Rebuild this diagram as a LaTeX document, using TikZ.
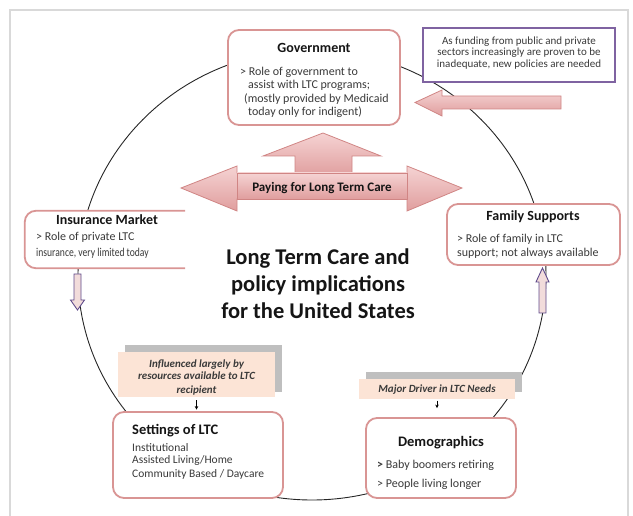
\documentclass[tikz,border=0pt]{standalone}
\usepackage{fontspec}
\setmainfont{Carlito}
\usetikzlibrary{arrows.meta}
\definecolor{boxpink}{HTML}{D99594}
\definecolor{arrowtop}{HTML}{F5D3D3}
\definecolor{arrowbot}{HTML}{E09E9E}
\definecolor{arrowline}{HTML}{D08584}
\definecolor{purp}{HTML}{7F63A1}
\definecolor{peach}{HTML}{FCE4D6}
\definecolor{shadowgray}{HTML}{BFBFBF}
\definecolor{bodytext}{HTML}{3A3A3A}
\definecolor{titletext}{HTML}{151515}
\definecolor{smallarrowcol}{HTML}{5F4B8B}
\definecolor{smallfill}{HTML}{F2DCDB}
\begin{document}
\begin{tikzpicture}[x=1pt,y=-1pt,
  ltcbox/.style={draw=boxpink, line width=1.8pt, rounded corners=11pt, fill=white, inner sep=0pt},
  titlefont/.style={font=\fontsize{14}{16}\selectfont\bfseries, text=titletext, inner sep=0pt},
  bodyfont/.style={font=\fontsize{12}{14}\selectfont, text=bodytext, inner sep=0pt},
  notefont/.style={font=\fontsize{11}{13}\selectfont\bfseries\itshape, text=bodytext, inner sep=0pt},
  bigarrow/.style={top color=arrowtop, bottom color=arrowbot, draw=arrowline, line width=0.8pt, line join=miter},
  smallarrow/.style={fill=smallfill, draw=smallarrowcol, line width=0.9pt, line join=miter},
  notebox/.style={fill=peach, inner sep=0pt},
  noteshadow/.style={fill=shadowgray, inner sep=0pt},
  pointer/.style={-{Stealth[length=3.5pt,width=3.5pt]}, line width=0.6pt, black},
  pics/fatdown/.style={code={\draw[smallarrow] (-3.5,0) -- (3.5,0) -- (3.5,26) -- (7,26) -- (0,36) -- (-7,26) -- (-3.5,26) -- cycle;}},
  pics/fatup/.style={code={\draw[smallarrow] (-3.5,45) -- (3.5,45) -- (3.5,14) -- (6.5,14) -- (0,0) -- (-6.5,14) -- (-3.5,14) -- cycle;}}
]
\useasboundingbox (0,0) rectangle (633,516);
% page frame
\draw[gray!30, line width=1.5pt] (10,520) -- (10,10) -- (628,10) -- (628,520);
% cycle
\draw[line width=0.9pt, black!85] (312,275) ellipse [x radius=234pt, y radius=225pt];

% arrow towards government
\draw[bigarrow] (415,102.5) -- (442,90) -- (442,96) -- (561,96) -- (561,109) -- (442,109) -- (442,116) -- cycle;
% up arrow + double arrow
\draw[bigarrow] (323,133) -- (381,156) -- (352,156) -- (352,176) -- (295,176) -- (295,156) -- (263,156) -- cycle;
\draw[bigarrow] (181,188) -- (237,166) -- (237,173) -- (407,173) -- (407,166) -- (462,188) -- (407,211) -- (407,199) -- (237,199) -- (237,211) -- cycle;
\draw[bigarrow] (237,173) rectangle (407,199);
\node[font=\fontsize{13}{15}\selectfont\bfseries, text=titletext, inner sep=0pt, anchor=base] (paying) at (322,191.5) {Paying for Long Term Care};

% Government
\node[ltcbox, minimum width=172pt, minimum height=95pt] (gov) at (314,77.5) {};
\node[titlefont, anchor=base] (govtitle) at (314,52.5) {Government};
\node[bodyfont, anchor=base west] (govl1) at (240,76) {> Role of government to};
\node[bodyfont, anchor=base west] (govl2) at (248,89) {assist with LTC programs;};
\node[bodyfont, anchor=base west] (govl3) at (244,102.5) {(mostly provided by Medicaid};
\node[bodyfont, anchor=base west] (govl4) at (248,115.5) {today only for indigent)};

% purple note
\node[draw=purp, line width=2.4pt, fill=white, minimum width=192pt, minimum height=54pt, inner sep=0pt] (policy) at (519,55) {};
\node[font=\fontsize{11}{13}\selectfont, text=bodytext, inner sep=0pt, anchor=base] (pol1) at (519,44.5) {As funding from public and private};
\node[font=\fontsize{11}{13}\selectfont, text=bodytext, inner sep=0pt, anchor=base] (pol2) at (519,56) {sectors increasingly are proven to be};
\node[font=\fontsize{11}{13}\selectfont, text=bodytext, inner sep=0pt, anchor=base] (pol3) at (519,67.5) {inadequate, new policies are needed};

% Insurance market (open on the right)
\node[inner sep=0pt, minimum width=160pt, minimum height=57pt] (ins) at (105,239.5) {};
\fill[white] (ins.north west) rectangle (ins.south east);
\draw[draw=boxpink, line width=1.8pt, rounded corners=11pt] (ins.north east) -- (ins.north west) -- (ins.south west) -- (ins.south east);
\node[titlefont, anchor=base] (institle) at (107,225) {Insurance Market};
\node[bodyfont, anchor=base west] (insl1) at (36,241) {> Role of private LTC};
\node[bodyfont, anchor=base west] (insl2) at (36,257) {\scalebox{0.8}[1]{insurance, very limited today}};
\pic at (77.5,274) {fatdown};

% Family supports
\node[ltcbox, minimum width=173pt, minimum height=61pt] (fam) at (533.5,234.5) {};
\node[titlefont, anchor=base] (famtitle) at (533,221) {Family Supports};
\node[bodyfont, anchor=base west] (faml1) at (457,243) {> Role of family in LTC};
\node[bodyfont, anchor=base west] (faml2) at (457,256.5) {support; not always available};
\pic at (542.5,268) {fatup};

% central title
\node[font=\fontsize{22.5}{27}\selectfont\bfseries, text=titletext, inner sep=0pt, anchor=base] (main1) at (318,264.5) {Long Term Care and};
\node[font=\fontsize{22.5}{27}\selectfont\bfseries, text=titletext, inner sep=0pt, anchor=base] (main2) at (318,291.5) {policy implications};
\node[font=\fontsize{22.5}{27}\selectfont\bfseries, text=titletext, inner sep=0pt, anchor=base] (main3) at (318,318.5) {for the United States};

% Influenced note
\node[noteshadow, minimum width=157pt, minimum height=47pt] (inflsh) at (203.5,368.5) {};
\node[notebox, minimum width=157pt, minimum height=45pt] (infl) at (196.5,374.5) {};
\node[notefont, anchor=base] (infl1) at (196.5,367) {Influenced largely by};
\node[notefont, anchor=base] (infl2) at (196.5,380) {resources available to LTC};
\node[notefont, anchor=base] (infl3) at (196.5,393) {recipient};

% Settings
\node[ltcbox, minimum width=170pt, minimum height=86pt] (set) at (198,455) {};
\node[font=\fontsize{14.5}{16}\selectfont\bfseries, text=titletext, inner sep=0pt, anchor=base west] (settitle) at (132,434.5) {Settings of LTC};
\node[font=\fontsize{11.5}{13}\selectfont, text=bodytext, inner sep=0pt, anchor=base west] (setl1) at (132,451) {Institutional};
\node[font=\fontsize{11.5}{13}\selectfont, text=bodytext, inner sep=0pt, anchor=base west] (setl2) at (132,464) {Assisted Living/Home};
\node[font=\fontsize{11.5}{13}\selectfont, text=bodytext, inner sep=0pt, anchor=base west] (setl3) at (132,477) {Community Based / Daycare};
\draw[pointer, shorten <=3pt, shorten >=1.5pt] (infl.south) -- (infl.south |- set.north);

% Major driver note
\node[noteshadow, minimum width=156pt, minimum height=20pt] (majsh) at (444,382) {};
\node[notebox, minimum width=156pt, minimum height=20pt] (maj) at (437,389) {};
\node[notefont, anchor=base] (majtext) at (437,392.5) {Major Driver in LTC Needs};

% Demographics
\node[ltcbox, minimum width=150pt, minimum height=80pt] (demo) at (441,458) {};
\node[font=\fontsize{14.5}{16}\selectfont\bfseries, text=titletext, inner sep=0pt, anchor=base] (demotitle) at (441,446.5) {Demographics};
\node[bodyfont, anchor=base west] (demol1) at (377,468) {\textbf{>} Baby boomers retiring};
\node[bodyfont, anchor=base west] (demol2) at (377,487) {> People living longer};
\draw[pointer, shorten <=1.5pt, shorten >=9pt] (maj.south) -- (maj.south |- demo.north);
\end{tikzpicture}
\end{document}
